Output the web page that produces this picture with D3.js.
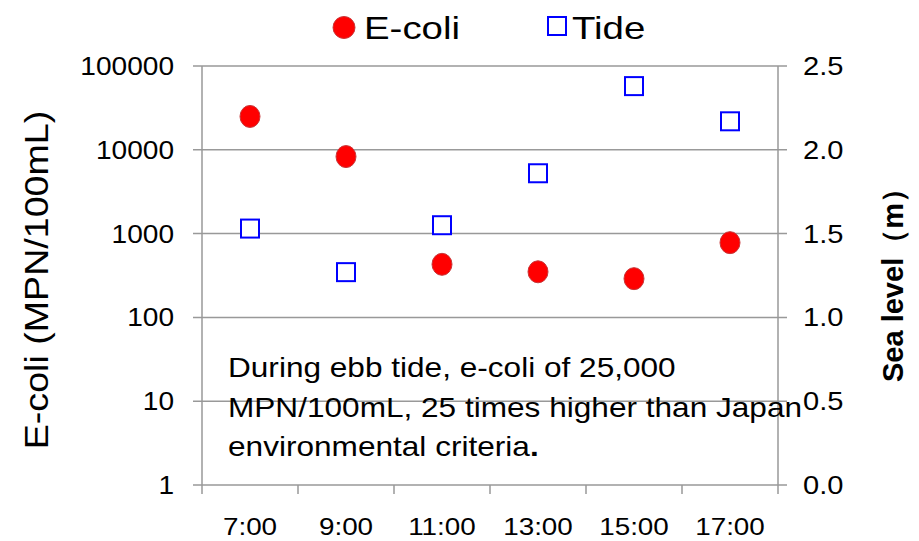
<!DOCTYPE html>
<html>
<head>
<meta charset="utf-8">
<script src="https://cdn.jsdelivr.net/npm/d3@7"></script>
<style>
body{margin:0;background:#fff;}
svg text{font-family:"Liberation Sans",Arial,sans-serif;fill:#000;}
</style>
</head>
<body>
<svg id="chart" width="919" height="541"></svg>
<script>
// donnees
var heures = ["7:00","9:00","11:00","13:00","15:00","17:00"];
var ecoli = [25000, 8300, 430, 350, 290, 780];
var maree = [1.53, 1.27, 1.55, 1.86, 2.38, 2.17];
var ticksG = [1,10,100,1000,10000,100000];
var ticksD = [0,0.5,1.0,1.5,2.0,2.5];
var notes = ["During ebb tide, e-coli of 25,000","MPN/100mL, 25 times higher than Japan","environmental criteria"];

var svg = d3.select("#chart");
var gauche = 202, droite = 778, haut = 66, bas = 485;
var gris = "#999999";

var x = d3.scaleBand().domain(heures).range([gauche, droite]);
var yG = d3.scaleLog().domain([1,100000]).range([bas, haut]);
var yD = d3.scaleLinear().domain([0,2.5]).range([bas, haut]);

//texte etire horizontalement (police du modele plus large)
function texte(g, px, py, txt, taille, ancre, sx){
	return g.append("text")
		.attr("transform","translate("+px+","+py+") scale("+sx+",1)")
		.attr("text-anchor", ancre)
		.style("font-size", taille+"px")
		.text(txt);
}

//grille
svg.append("g").selectAll("line").data(ticksG).join("line")
	.attr("x1", gauche-9).attr("x2", droite+9)
	.attr("y1", function(d){return yG(d);}).attr("y2", function(d){return yG(d);})
	.attr("stroke", gris).attr("stroke-width", 1.5);

//axes verticaux
svg.append("line").attr("x1",gauche).attr("x2",gauche).attr("y1",haut).attr("y2",bas+9).attr("stroke",gris).attr("stroke-width",1.5);
svg.append("line").attr("x1",droite).attr("x2",droite).attr("y1",haut).attr("y2",bas+9).attr("stroke",gris).attr("stroke-width",1.5);

//ticks x
svg.append("g").selectAll("line").data(heures.slice(1)).join("line")
	.attr("x1", function(d){return x(d);}).attr("x2", function(d){return x(d);})
	.attr("y1", bas).attr("y2", bas+9)
	.attr("stroke", gris).attr("stroke-width", 1.5);

//labels gauche
var gG = svg.append("g");
ticksG.forEach(function(d){
	texte(gG, 174, yG(d)+9, d, 26, "end", 1.08);
});

//labels droite
var gD = svg.append("g");
ticksD.forEach(function(d){
	texte(gD, 803, yD(d)+9, d.toFixed(1), 26, "start", 1.12);
});

//labels x
var gX = svg.append("g");
heures.forEach(function(d){
	texte(gX, x(d)+x.bandwidth()/2, 535, d, 24, "middle", 1.16);
});

//titres axes
svg.append("text").attr("transform","translate(48,280) rotate(-90) scale(1.14,1)")
	.attr("text-anchor","middle").style("font-size","33px")
	.text("E-coli (MPN/100mL)");
svg.append("text").attr("transform","translate(903,278) rotate(-90)")
	.attr("text-anchor","middle").style("font-size","29px").style("font-weight","bold")
	.text("Sea level（m）");

//annotation
var gN = svg.append("g");
notes.forEach(function(d,i){
	var t = texte(gN, 228, 377+i*39.5, d, 27, "start", 1.17);
	if(i==2){
		t.append("tspan").style("font-weight","bold").text(".");
	}
});

//points e-coli
svg.append("g").selectAll("ellipse").data(ecoli).join("ellipse")
	.attr("cx", function(d,i){return x(heures[i])+x.bandwidth()/2;})
	.attr("cy", function(d){return yG(d);})
	.attr("rx", 10).attr("ry", 11)
	.attr("fill","#ff0000").attr("stroke","#c8383a").attr("stroke-width",1);

//carres maree
svg.append("g").selectAll("rect").data(maree).join("rect")
	.attr("x", function(d,i){return x(heures[i])+x.bandwidth()/2-9;})
	.attr("y", function(d){return yD(d)-9;})
	.attr("width",18).attr("height",18)
	.attr("fill","#fff").attr("stroke","#0000ff").attr("stroke-width",2);

//legende
var gL = svg.append("g");
gL.append("ellipse").attr("cx",344).attr("cy",27.5).attr("rx",11).attr("ry",11)
	.attr("fill","#ff0000").attr("stroke","#c8383a").attr("stroke-width",1);
texte(gL, 364, 39, "E-coli", 32, "start", 1.2);
gL.append("rect").attr("x",548).attr("y",17).attr("width",18).attr("height",18)
	.attr("fill","#fff").attr("stroke","#0000ff").attr("stroke-width",2);
texte(gL, 572, 39, "Tide", 32, "start", 1.2);
</script>
</body>
</html>
